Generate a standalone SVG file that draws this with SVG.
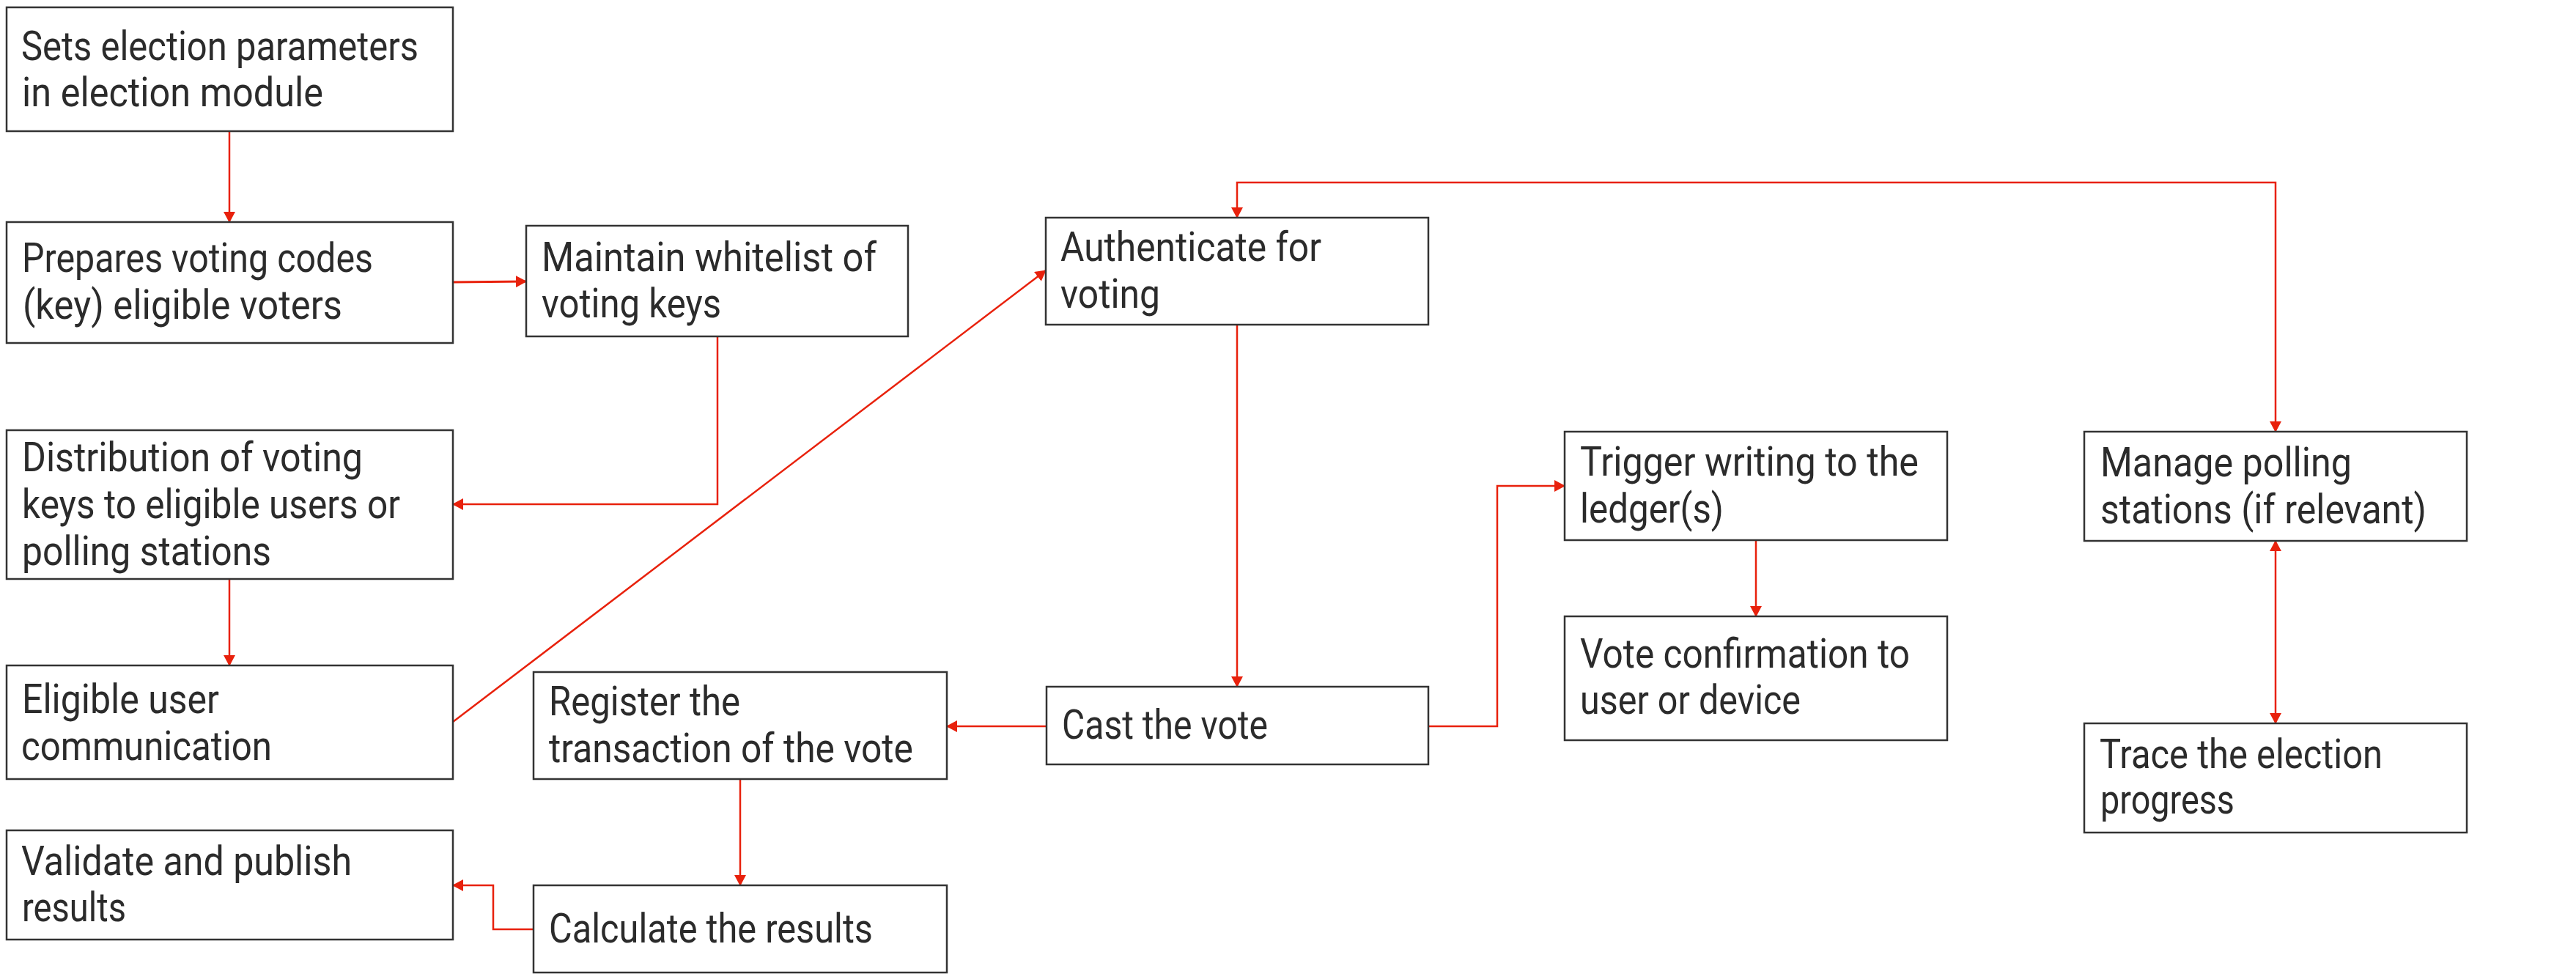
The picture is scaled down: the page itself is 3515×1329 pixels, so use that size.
<svg xmlns="http://www.w3.org/2000/svg" width="3515" height="1329" viewBox="0 0 3515 1329">
  <style>
    .box { fill: #ffffff; stroke: #333333; stroke-width: 2.5; }
    .lbl { font-family: Roboto, "Liberation Sans", sans-serif; font-size: 55px; fill: #2b2b2b; }
    .wire { fill: none; stroke: #e8210c; stroke-width: 2.5; marker-end: url(#head); }
    .both { marker-start: url(#head); }
  </style>
  <defs>
    <marker id="head" markerUnits="userSpaceOnUse" markerWidth="15" markerHeight="16" refX="14" refY="8" orient="auto-start-reverse">
      <path d="M0,0 L15,8 L0,16 Z" fill="#e8210c"/>
    </marker>
  </defs>

  <rect width="3515" height="1329" fill="#ffffff"/>

  <g id="connectors">
    <path class="wire" d="M313,179 V303"/>
    <path class="wire" d="M618,385 L718,384" style="stroke-width:3"/>
    <path class="wire" d="M979,459 V688 H618"/>
    <path class="wire" d="M313,790 V908"/>
    <path class="wire" d="M618,985 L1427,369"/>
    <path class="wire both" d="M1688,297 V249 H3105 V589"/>
    <path class="wire" d="M1688,443 V937"/>
    <path class="wire" d="M1428,991 H1292"/>
    <path class="wire" d="M1949,991 H2043 V663 H2135"/>
    <path class="wire" d="M2396,737 V841"/>
    <path class="wire both" d="M3105,738 V987"/>
    <path class="wire" d="M1010,1063 V1208"/>
    <path class="wire" d="M728,1268 H673 V1208 H618"/>
  </g>

  <g id="set-parameters">
    <rect class="box" x="9" y="10" width="609" height="169"/>
    <text class="lbl" x="29" y="82" textLength="542" lengthAdjust="spacingAndGlyphs">Sets election parameters</text>
    <text class="lbl" x="30" y="145" textLength="411" lengthAdjust="spacingAndGlyphs">in election module</text>
  </g>

  <g id="prepare-codes">
    <rect class="box" x="9" y="303" width="609" height="165"/>
    <text class="lbl" x="30" y="371" textLength="479" lengthAdjust="spacingAndGlyphs">Prepares voting codes</text>
    <text class="lbl" x="31" y="435" textLength="436" lengthAdjust="spacingAndGlyphs">(key) eligible voters</text>
  </g>

  <g id="whitelist">
    <rect class="box" x="718" y="308" width="521" height="151"/>
    <text class="lbl" x="739" y="370" textLength="457" lengthAdjust="spacingAndGlyphs">Maintain whitelist of</text>
    <text class="lbl" x="739" y="433" textLength="245" lengthAdjust="spacingAndGlyphs">voting keys</text>
  </g>

  <g id="distribution">
    <rect class="box" x="9" y="587" width="609" height="203"/>
    <text class="lbl" x="30" y="643" textLength="465" lengthAdjust="spacingAndGlyphs">Distribution of voting</text>
    <text class="lbl" x="30" y="707" textLength="516" lengthAdjust="spacingAndGlyphs">keys to eligible users or</text>
    <text class="lbl" x="30" y="771" textLength="340" lengthAdjust="spacingAndGlyphs">polling stations</text>
  </g>

  <g id="user-communication">
    <rect class="box" x="9" y="908" width="609" height="155"/>
    <text class="lbl" x="30" y="973" textLength="269" lengthAdjust="spacingAndGlyphs">Eligible user</text>
    <text class="lbl" x="29" y="1037" textLength="342" lengthAdjust="spacingAndGlyphs">communication</text>
  </g>

  <g id="publish-results">
    <rect class="box" x="9" y="1133" width="609" height="149"/>
    <text class="lbl" x="29" y="1194" textLength="451" lengthAdjust="spacingAndGlyphs">Validate and publish</text>
    <text class="lbl" x="30" y="1257" textLength="142" lengthAdjust="spacingAndGlyphs">results</text>
  </g>

  <g id="register-transaction">
    <rect class="box" x="728" y="917" width="564" height="146"/>
    <text class="lbl" x="749" y="976" textLength="261" lengthAdjust="spacingAndGlyphs">Register the</text>
    <text class="lbl" x="749" y="1040" textLength="497" lengthAdjust="spacingAndGlyphs">transaction of the vote</text>
  </g>

  <g id="calculate-results">
    <rect class="box" x="728" y="1208" width="564" height="119"/>
    <text class="lbl" x="749" y="1286" textLength="442" lengthAdjust="spacingAndGlyphs">Calculate the results</text>
  </g>

  <g id="authenticate">
    <rect class="box" x="1427" y="297" width="522" height="146"/>
    <text class="lbl" x="1447" y="356" textLength="356" lengthAdjust="spacingAndGlyphs">Authenticate for</text>
    <text class="lbl" x="1447" y="420" textLength="136" lengthAdjust="spacingAndGlyphs">voting</text>
  </g>

  <g id="cast-vote">
    <rect class="box" x="1428" y="937" width="521" height="106"/>
    <text class="lbl" x="1449" y="1008" textLength="281" lengthAdjust="spacingAndGlyphs">Cast the vote</text>
  </g>

  <g id="trigger-ledger">
    <rect class="box" x="2135" y="589" width="522" height="148"/>
    <text class="lbl" x="2156" y="649" textLength="462" lengthAdjust="spacingAndGlyphs">Trigger writing to the</text>
    <text class="lbl" x="2156" y="713" textLength="196" lengthAdjust="spacingAndGlyphs">ledger(s)</text>
  </g>

  <g id="vote-confirmation">
    <rect class="box" x="2135" y="841" width="522" height="169"/>
    <text class="lbl" x="2156" y="911" textLength="450" lengthAdjust="spacingAndGlyphs">Vote confirmation to</text>
    <text class="lbl" x="2156" y="974" textLength="301" lengthAdjust="spacingAndGlyphs">user or device</text>
  </g>

  <g id="polling-stations">
    <rect class="box" x="2844" y="589" width="522" height="149"/>
    <text class="lbl" x="2866" y="650" textLength="343" lengthAdjust="spacingAndGlyphs">Manage polling</text>
    <text class="lbl" x="2866" y="714" textLength="445" lengthAdjust="spacingAndGlyphs">stations (if relevant)</text>
  </g>

  <g id="trace-progress">
    <rect class="box" x="2844" y="987" width="522" height="149"/>
    <text class="lbl" x="2865" y="1048" textLength="386" lengthAdjust="spacingAndGlyphs">Trace the election</text>
    <text class="lbl" x="2866" y="1110" textLength="183" lengthAdjust="spacingAndGlyphs">progress</text>
  </g>
</svg>
